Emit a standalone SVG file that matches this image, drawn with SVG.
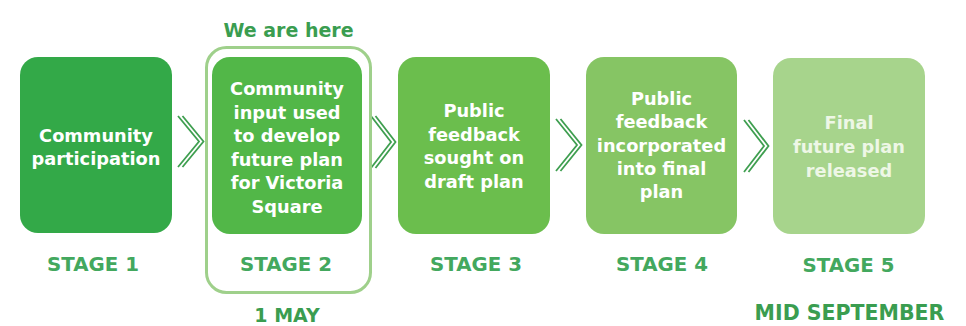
<svg xmlns="http://www.w3.org/2000/svg" width="966" height="326" viewBox="0 0 966 326">
<style>
.box-text{font-family:"DejaVu Sans","Liberation Sans",sans-serif;font-weight:bold;font-size:17.8px;fill:#ffffff;text-anchor:middle}
.stage{font-family:"DejaVu Sans","Liberation Sans",sans-serif;font-weight:bold;font-size:19.8px;fill:#43a85e;text-anchor:middle}
.note{font-family:"DejaVu Sans","Liberation Sans",sans-serif;font-weight:bold;font-size:19px;fill:#3a9d50;text-anchor:middle}
.chev{fill:none;stroke:#3f9f50;stroke-width:1.8}
</style>
<rect width="966" height="326" fill="#ffffff"/>
<g id="connectors">
  <g id="chevron1"><path class="chev" d="M178,116 L199,141.5 L178,167"/><path class="chev" d="M182.5,116 L203.5,141.5 L182.5,167"/></g>
  <g id="chevron2"><path class="chev" d="M371,116 L391,142 L371,168"/><path class="chev" d="M375.5,116 L395.5,142 L375.5,168"/></g>
  <g id="chevron3"><path class="chev" d="M556,119 L577,145 L556,171"/><path class="chev" d="M560.5,119 L581.5,145 L560.5,171"/></g>
  <g id="chevron4"><path class="chev" d="M744,120 L764,146 L744,172"/><path class="chev" d="M748.5,120 L768.5,146 L748.5,172"/></g>
</g>
<g id="stage1">
  <rect x="20" y="57" width="152" height="176" rx="18" fill="#33a948"/>
  <text class="box-text"><tspan x="96" y="142">Community</tspan><tspan x="96" y="165">participation</tspan></text>
  <text class="stage" x="93" y="271">STAGE 1</text>
</g>
<g id="stage2">
  <rect x="206.5" y="47.5" width="164" height="245" rx="20" fill="none" stroke="#9fd08b" stroke-width="3"/>
  <rect x="212" y="57" width="150" height="177" rx="18" fill="#52b748"/>
  <text class="box-text"><tspan x="287" y="95">Community</tspan><tspan x="287" y="118.5">input used</tspan><tspan x="287" y="142">to develop</tspan><tspan x="287" y="165.5">future plan</tspan><tspan x="287" y="189">for Victoria</tspan><tspan x="287" y="212.5">Square</tspan></text>
  <text class="stage" x="286" y="271">STAGE 2</text>
  <text class="note" x="288.5" y="37">We are here</text>
  <text class="note" x="287" y="322">1 MAY</text>
</g>
<g id="stage3">
  <rect x="398" y="57" width="152" height="177" rx="18" fill="#6bbe4d"/>
  <text class="box-text"><tspan x="474" y="117">Public</tspan><tspan x="474" y="140.5">feedback</tspan><tspan x="474" y="164">sought on</tspan><tspan x="474" y="187.5">draft plan</tspan></text>
  <text class="stage" x="476" y="271">STAGE 3</text>
</g>
<g id="stage4">
  <rect x="586" y="57" width="151" height="177" rx="18" fill="#86c564"/>
  <text class="box-text"><tspan x="661.5" y="105">Public</tspan><tspan x="661.5" y="128">feedback</tspan><tspan x="661.5" y="151.5">incorporated</tspan><tspan x="661.5" y="175">into final</tspan><tspan x="661.5" y="198">plan</tspan></text>
  <text class="stage" x="662" y="271">STAGE 4</text>
</g>
<g id="stage5">
  <rect x="773" y="58" width="152" height="176" rx="18" fill="#a7d48c"/>
  <text class="box-text" style="fill:#eef7e6"><tspan x="849" y="129">Final</tspan><tspan x="849" y="153">future plan</tspan><tspan x="849" y="176.5">released</tspan></text>
  <text class="stage" x="848.5" y="272">STAGE 5</text>
  <text class="note" x="849.5" y="320" style="font-size:20.5px">MID SEPTEMBER</text>
</g>
</svg>
